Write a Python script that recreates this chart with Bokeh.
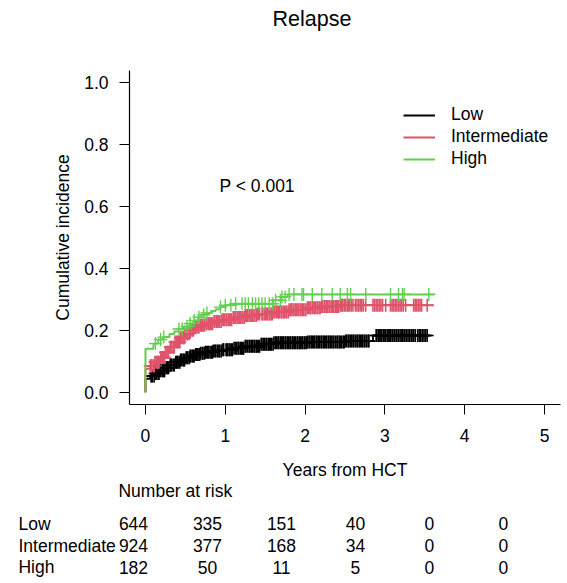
import numpy as np
from bokeh.plotting import figure
from bokeh.models import Range1d, FixedTicker, PrintfTickFormatter, Legend, LegendItem, Label, Title, ColumnDataSource
from bokeh.layouts import column, row
from bokeh.embed import file_html
from bokeh.resources import INLINE
from bokeh.core.properties import value

FONT = "Liberation Sans"
FS = "17.5px"

title_text = "Relapse"
groups = ["Low", "Intermediate", "High"]
colors = ["#000000", "#DF536B", "#61D04F"]

# cumulative incidence step curves (time in years, value)
low_t = [0, 0, 0.06, 0.12, 0.18, 0.25, 0.31, 0.37, 0.44, 0.50, 0.56, 0.62, 0.69, 0.75, 0.85, 0.96, 1.10, 1.25, 1.44, 1.61, 2.03, 2.50, 2.85, 3.57]
low_y = [0, 0.043, 0.052, 0.060, 0.069, 0.079, 0.088, 0.097, 0.104, 0.111, 0.117, 0.122, 0.126, 0.129, 0.133, 0.137, 0.142, 0.148, 0.155, 0.160, 0.162, 0.165, 0.183, 0.183]
int_t = [0, 0, 0.06, 0.12, 0.18, 0.25, 0.31, 0.37, 0.44, 0.50, 0.56, 0.62, 0.69, 0.75, 0.85, 0.96, 1.10, 1.25, 1.40, 1.61, 1.80, 2.03, 2.20, 2.44, 3.61]
int_y = [0, 0.076, 0.085, 0.097, 0.112, 0.129, 0.145, 0.162, 0.176, 0.189, 0.200, 0.210, 0.216, 0.221, 0.228, 0.234, 0.241, 0.248, 0.253, 0.259, 0.266, 0.273, 0.277, 0.281, 0.281]
high_t = [0, 0, 0.10, 0.16, 0.22, 0.30, 0.36, 0.42, 0.48, 0.55, 0.60, 0.66, 0.70, 0.76, 0.82, 0.88, 0.94, 1.00, 1.10, 1.60, 1.70, 1.78, 3.62]
high_y = [0, 0.140, 0.157, 0.170, 0.178, 0.188, 0.196, 0.204, 0.212, 0.222, 0.232, 0.242, 0.250, 0.256, 0.262, 0.268, 0.275, 0.281, 0.286, 0.297, 0.308, 0.316, 0.316]

# censoring times (years)
low_cens = [0.07, 0.08, 0.09, 0.11, 0.12, 0.13, 0.14, 0.16, 0.17, 0.18, 0.19, 0.21, 0.22, 0.23, 0.24, 0.26, 0.27,
            0.28, 0.29, 0.31, 0.32, 0.33, 0.35, 0.36, 0.38, 0.39, 0.40, 0.42, 0.43, 0.44, 0.45, 0.47, 0.48, 0.49,
            0.51, 0.52, 0.53, 0.55, 0.56, 0.57, 0.59, 0.60, 0.61, 0.63, 0.64, 0.65, 0.67, 0.68, 0.69, 0.71, 0.72,
            0.74, 0.75, 0.76, 0.78, 0.79, 0.81, 0.83, 0.84, 0.85, 0.87, 0.88, 0.90, 0.92, 0.93, 0.95, 0.97, 0.98,
            1.01, 1.02, 1.03, 1.05, 1.06, 1.08, 1.09, 1.11, 1.13, 1.14, 1.16, 1.17, 1.19, 1.20, 1.22, 1.23, 1.25,
            1.26, 1.28, 1.30, 1.31, 1.33, 1.34, 1.36, 1.37, 1.39, 1.40, 1.42, 1.43, 1.45, 1.46, 1.48, 1.49, 1.51,
            1.52, 1.54, 1.55, 1.57, 1.58, 1.60, 1.61, 1.63, 1.64, 1.66, 1.67, 1.69, 1.70, 1.72, 1.73, 1.75, 1.76,
            1.78, 1.79, 1.81, 1.82, 1.84, 1.85, 1.87, 1.88, 1.90, 1.91, 1.93, 1.94, 1.96, 1.97, 1.99, 2.00, 2.02,
            2.03, 2.05, 2.06, 2.08, 2.09, 2.11, 2.12, 2.14, 2.15, 2.17, 2.18, 2.20, 2.21, 2.23, 2.24, 2.26, 2.27,
            2.29, 2.30, 2.32, 2.33, 2.35, 2.36, 2.38, 2.40, 2.41, 2.43, 2.44, 2.46, 2.48, 2.49, 2.51, 2.52, 2.54,
            2.55, 2.57, 2.58, 2.60, 2.61, 2.63, 2.65, 2.66, 2.68, 2.69, 2.71, 2.72, 2.74, 2.75, 2.77, 2.79, 2.80,
            2.89, 2.90, 2.92, 2.93, 2.95, 2.96, 2.98, 3.00, 3.01, 3.03, 3.04, 3.06, 3.07, 3.09, 3.10, 3.12, 3.14,
            3.15, 3.17, 3.19, 3.21, 3.22, 3.24, 3.25, 3.27, 3.29, 3.31, 3.33, 3.34, 3.36, 3.38, 3.41, 3.43, 3.45,
            3.47, 3.49, 3.51, 3.53]
int_cens = [0.06, 0.07, 0.08, 0.10, 0.11, 0.12, 0.14, 0.15, 0.16, 0.17, 0.19, 0.20, 0.21, 0.23, 0.24, 0.25, 0.27,
            0.28, 0.29, 0.31, 0.32, 0.33, 0.35, 0.36, 0.37, 0.39, 0.40, 0.41, 0.43, 0.44, 0.45, 0.47, 0.48, 0.49,
            0.51, 0.52, 0.53, 0.55, 0.56, 0.57, 0.59, 0.60, 0.62, 0.63, 0.64, 0.66, 0.67, 0.69, 0.70, 0.71, 0.73,
            0.74, 0.76, 0.77, 0.79, 0.80, 0.81, 0.83, 0.84, 0.86, 0.87, 0.89, 0.90, 0.92, 0.93, 0.95, 0.96, 0.98,
            0.99, 1.01, 1.02, 1.04, 1.05, 1.07, 1.08, 1.10, 1.12, 1.13, 1.15, 1.16, 1.18, 1.19, 1.21, 1.22, 1.24,
            1.25, 1.27, 1.28, 1.30, 1.31, 1.33, 1.34, 1.36, 1.37, 1.39, 1.40, 1.42, 1.43, 1.46, 1.47, 1.49, 1.50,
            1.52, 1.53, 1.55, 1.56, 1.58, 1.59, 1.61, 1.62, 1.64, 1.65, 1.67, 1.68, 1.70, 1.71, 1.73, 1.74, 1.76,
            1.77, 1.79, 1.80, 1.82, 1.83, 1.85, 1.86, 1.88, 1.89, 1.91, 1.92, 1.94, 1.95, 1.97, 1.98, 2.00, 2.01,
            2.03, 2.04, 2.06, 2.07, 2.09, 2.10, 2.12, 2.13, 2.15, 2.16, 2.18, 2.19, 2.21, 2.22, 2.24, 2.25, 2.27,
            2.28, 2.30, 2.31, 2.33, 2.34, 2.36, 2.38, 2.39, 2.41, 2.42, 2.44, 2.46, 2.47, 2.49, 2.51, 2.53, 2.54,
            2.56, 2.58, 2.60, 2.63, 2.65, 2.67, 2.69, 2.71, 2.73, 2.76, 2.85, 2.87, 2.89, 2.91, 2.93, 2.95, 2.97,
            3.01, 3.07, 3.09, 3.11, 3.13, 3.15, 3.17, 3.19, 3.21, 3.23, 3.26, 3.36, 3.38, 3.40, 3.42, 3.44, 3.46,
            3.53]
high_cens = [0.125, 0.19, 0.23, 0.42, 0.46, 0.52, 0.56, 0.61, 0.67, 0.73, 0.77, 0.94, 1.00, 1.07, 1.13, 1.21, 1.25,
             1.29, 1.34, 1.38, 1.42, 1.46, 1.50, 1.55, 1.59, 1.63, 1.69, 1.71, 1.75, 1.80, 1.86, 1.96, 1.98, 2.09, 2.21,
             2.34, 2.44, 2.53, 2.57, 2.76, 3.07, 3.17, 3.22, 3.24, 3.55]

# number at risk table
risk_times = [0, 1, 2, 3, 4, 5]
low_risk = [644, 335, 151, 40, 0, 0]
int_risk = [924, 377, 168, 34, 0, 0]
high_risk = [182, 50, 11, 5, 0, 0]
risk_header = "Number at risk"

p_value_text = "P < 0.001"

# ---------------- main plot ----------------
p = figure(width=567, height=482, x_range=Range1d(-0.2, 5.2), y_range=Range1d(-0.04, 1.04),
           output_backend="svg", toolbar_location=None,
           min_border_left=129, min_border_right=7, min_border_top=70, min_border_bottom=78)
p.outline_line_color = None
p.grid.visible = False
p.background_fill_color = "white"
p.border_fill_color = "white"

# spacer above the frame (closest to the frame), then the real title outside it
p.add_layout(Title(text=" ", text_font=FONT, text_font_size=FS, standoff=18), "above")
p.title = Title(text=title_text, align="left", offset=143, standoff=0, vertical_align="bottom",
                text_font=FONT, text_font_size="21.5px", text_font_style="normal", text_color="black")

for ax in (p.xaxis[0], p.yaxis[0]):
    ax.major_tick_out = 10
    ax.major_tick_in = 0
    ax.minor_tick_out = 0
    ax.minor_tick_in = 0
    ax.axis_line_color = "black"
    ax.axis_line_width = 1.2
    ax.major_tick_line_color = "black"
    ax.major_tick_line_width = 1
    ax.major_label_text_font = FONT
    ax.major_label_text_font_size = FS
    ax.major_label_text_color = "black"
    ax.axis_label_text_font = FONT
    ax.axis_label_text_font_size = FS
    ax.axis_label_text_font_style = "normal"
    ax.axis_label_text_color = "black"

p.xaxis.ticker = FixedTicker(ticks=risk_times)
p.xaxis.axis_label = "Years from HCT"
p.xaxis.major_label_standoff = 14
p.xaxis.axis_label_standoff = 15
p.yaxis.ticker = FixedTicker(ticks=[0, 0.2, 0.4, 0.6, 0.8, 1.0])
p.yaxis.formatter = PrintfTickFormatter(format="%.1f")
p.yaxis.axis_label = "Cumulative incidence"
p.yaxis.major_label_standoff = 11
p.yaxis.axis_label_standoff = 8

curves = [(low_t, low_y, low_cens), (int_t, int_y, int_cens), (high_t, high_y, high_cens)]
mark_widths = [1.6, 1.6, 1.4]
items = []
for (t, y, cens), col, name, mw in zip(curves, colors, groups, mark_widths):
    r = p.step(x=t, y=y, mode="after", line_color=col, line_width=2)
    ta = np.array(t)
    ya = np.array(y)
    c = np.array(cens)
    idx = np.searchsorted(ta, c, side="right") - 1
    p.scatter(x=c, y=ya[idx], marker="cross", size=13, line_color=col, line_width=mw)
    items.append(LegendItem(label=name, renderers=[r]))

legend = Legend(items=items, location=(274, 235), padding=0, margin=0, spacing=1,
                glyph_width=32, glyph_height=20, label_height=20, label_standoff=16,
                label_text_font=FONT, label_text_font_size=FS, label_text_color="black",
                border_line_color=None, background_fill_alpha=0)
p.add_layout(legend)

p.add_layout(Label(x=1.4, y=0.667, text=p_value_text, text_align="center", text_baseline="middle",
                   text_font=FONT, text_font_size=FS, text_color="black"))

# ---------------- number at risk table ----------------
p2 = figure(width=567, height=101, x_range=Range1d(-1.797, 5.865), y_range=Range1d(3.751, -0.903),
            output_backend="svg", toolbar_location=None, x_axis_location=None, y_axis_location=None,
            min_border=0, min_border_left=0, min_border_right=0, min_border_top=0, min_border_bottom=0)
p2.outline_line_color = None
p2.grid.visible = False

p2.text(x=[-0.203], y=[-0.5], text=[risk_header], text_align="left", text_baseline="middle",
        text_font=value(FONT), text_font_size=FS, text_color="black")
for i, (name, counts) in enumerate(zip(groups, [low_risk, int_risk, high_risk])):
    rr = i + 1
    p2.text(x=[-1.554], y=[rr], text=[name], text_align="left", text_baseline="middle",
            text_font=value(FONT), text_font_size=FS, text_color="black")
    src = ColumnDataSource(dict(x=risk_times, y=[rr] * len(risk_times), t=[str(v) for v in counts]))
    p2.text(x="x", y="y", text="t", source=src, text_align="center", text_baseline="middle",
            text_font=value(FONT), text_font_size=FS, text_color="black")

layout = column(p, row(p2), spacing=0)
open("out.html", "w").write(file_html(layout, INLINE))
